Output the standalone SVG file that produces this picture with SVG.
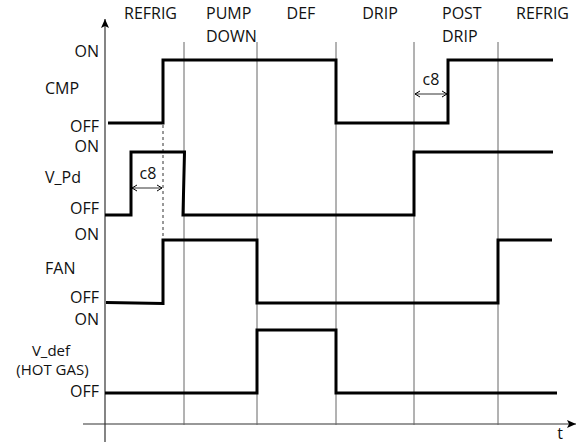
<svg xmlns="http://www.w3.org/2000/svg" width="582" height="443" viewBox="0 0 582 443">
<style>
text{font-family:"Open Sans","Noto Sans","Liberation Sans",sans-serif;font-size:16px;fill:#111}
.r{text-anchor:end}
.m{text-anchor:middle}
.s{font-size:15px}
.grid{stroke:#666;stroke-width:1;fill:none}
.axis{stroke:#333;stroke-width:1.2;fill:none}
.sig{stroke:#000;stroke-width:3;fill:none;stroke-linejoin:miter}
.dim{stroke:#333;stroke-width:1;fill:none}
</style>
<defs>
<marker id="ah" markerWidth="10" markerHeight="10" refX="9" refY="5" orient="auto" markerUnits="userSpaceOnUse"><path d="M0,1 L9,5 L0,9 L2,5 Z" fill="#000"/></marker>
<marker id="da" markerWidth="8" markerHeight="8" refX="6" refY="4" orient="auto-start-reverse" markerUnits="userSpaceOnUse"><path d="M1,1 L6,4 L1,7" fill="none" stroke="#000" stroke-width="1"/></marker>
</defs>
<g id="connectors">
<line class="axis" x1="105" y1="442" x2="105" y2="19" marker-end="url(#ah)"/>
<line class="axis" x1="83" y1="424" x2="576" y2="424" marker-end="url(#ah)"/>
<line class="grid" x1="184" y1="42" x2="184" y2="425"/>
<line class="grid" x1="257" y1="42" x2="257" y2="425"/>
<line class="grid" x1="336" y1="42" x2="336" y2="425"/>
<line class="grid" x1="414" y1="42" x2="414" y2="425"/>
<line class="grid" x1="498" y1="42" x2="498" y2="425"/>
<line x1="163" y1="125" x2="163" y2="240" stroke="#333" stroke-width="1" stroke-dasharray="3,3"/>
<line class="dim" x1="132" y1="188" x2="162" y2="188" marker-start="url(#da)" marker-end="url(#da)"/>
<line class="dim" x1="415" y1="94" x2="447" y2="94" marker-start="url(#da)" marker-end="url(#da)"/>
</g>
<g id="phases">
<text class="m" x="150.5" y="19">REFRIG</text>
<text x="206" y="19">PUMP</text>
<text x="206" y="42">DOWN</text>
<text class="m" x="301" y="19">DEF</text>
<text class="m" x="380" y="19">DRIP</text>
<text x="442" y="19">POST</text>
<text x="442" y="42">DRIP</text>
<text class="m" x="542.5" y="19">REFRIG</text>
<text class="m" x="560" y="439">t</text>
</g>
<g id="cmp">
<text class="r" x="99" y="57">ON</text>
<text x="45" y="94">CMP</text>
<text class="r" x="99" y="132">OFF</text>
<path class="sig" d="M108,123 H163 V60 H336 V123 H448 V60 H553"/>
<text class="m" x="431" y="85">c8</text>
</g>
<g id="vpd">
<text class="r" x="99" y="152">ON</text>
<text x="45" y="183">V_Pd</text>
<text class="r" x="99" y="214">OFF</text>
<path class="sig" d="M105,215 H131 V152 H184.5 L183,215 H414 V152 H553"/>
<text class="m" x="148" y="179">c8</text>
</g>
<g id="fan">
<text class="r" x="99" y="240">ON</text>
<text x="45" y="274">FAN</text>
<text class="r" x="99" y="303">OFF</text>
<path class="sig" d="M106,302.5 L163,303.5 V240 H257 V303 H498 V240 H552"/>
</g>
<g id="vdef">
<text class="r" x="99" y="325">ON</text>
<text class="m s" x="51" y="356">V_def</text>
<text class="m s" x="52.5" y="375">(HOT GAS)</text>
<text class="r" x="99" y="397">OFF</text>
<path class="sig" d="M105,393 H257 V330 H336 V393 H557"/>
</g>
</svg>
